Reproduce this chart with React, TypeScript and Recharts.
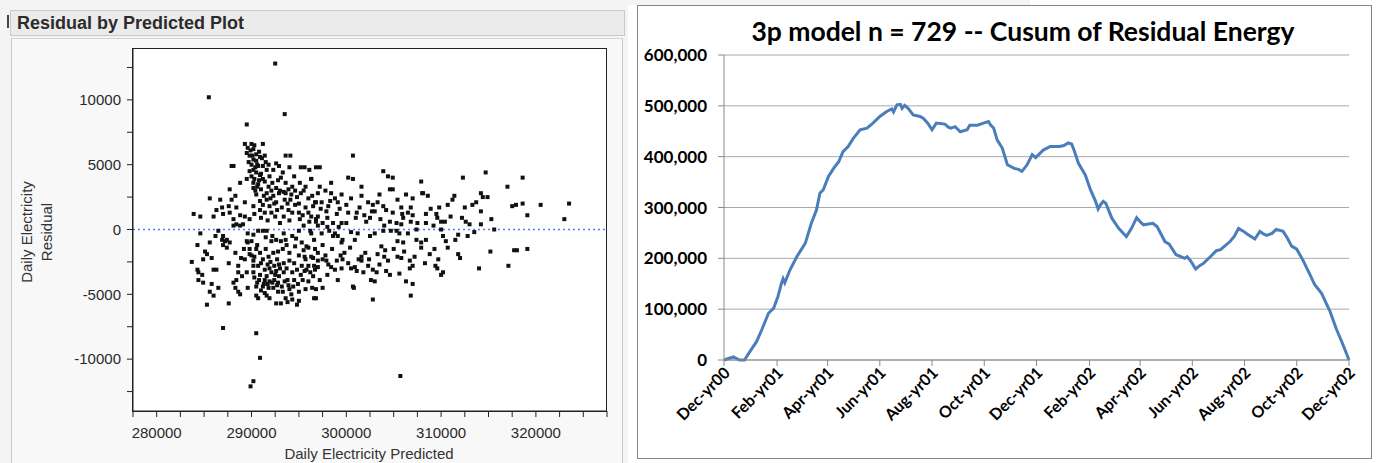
import React from 'react';
import {
  ScatterChart, Scatter, XAxis, YAxis, ReferenceLine,
  LineChart, Line, CartesianGrid,
} from 'recharts';

// ---------- Left: Residual by Predicted (values in thousands of kWh) ----------
const outlierPts: number[][] = [
  [285.5, 10.2], [292.5, 12.8], [293.5, 8.9], [289.5, 8.1], [287.0, -7.6],
  [290.5, -8.0], [290.9, -9.9], [290.2, -11.7], [289.9, -12.1], [305.7, -11.3],
];

const westPts: number[][] = [
  [283.9, 1.2], [284.6, 1.0], [283.7, -2.5], [284.3, -1.2], [284.6, -0.3], [284.3, -3.1], [284.4, -3.3],
  [284.8, -3.5], [284.4, -3.9], [284.9, -4.1], [285.1, -1.7], [285.3, -1.9], [284.9, -2.3], [285.3, -5.8],
  [285.6, 2.4], [286.0, 1.0], [285.6, -1.0], [285.8, -2.2], [286.0, -3.1], [285.8, -4.2], [285.6, -4.8],
  [286.0, -5.1], [286.5, -4.5], [286.3, -3.1], [286.2, -0.5], [286.5, -0.1], [286.3, 1.5], [286.7, 2.3],
  [286.9, 1.7], [287.0, 1.2], [287.0, -0.5], [286.9, -0.8], [287.2, -0.9], [287.4, -0.8], [287.0, -1.2],
  [287.4, -1.4], [287.7, -1.0], [287.6, -2.6], [287.6, -5.7], [287.7, 3.1], [287.9, 2.3], [287.6, 1.8],
  [287.7, 1.3], [288.1, 0.8], [288.4, 0.4], [288.1, 0.3], [288.8, 0.3], [289.1, 0.4], [287.9, 4.9],
  [288.1, 4.9], [288.8, 3.6], [289.5, 3.9], [289.3, 2.1], [288.4, 1.7], [288.1, -4.1], [288.3, -4.5],
  [288.6, -4.8], [288.8, -5.0], [288.4, -3.9], [288.6, -2.8], [288.3, -1.8], [289.5, -0.9], [289.6, -0.3],
  [289.3, -2.3], [289.5, -3.3], [289.6, -4.5], [289.0, -3.6], [289.2, -1.5], [288.9, -2.2], [288.6, -3.3],
  [288.3, 2.6], [288.8, 1.1], [289.3, 1.0],
];

const centralUpperPts: number[][] = [
  [289.3, 6.6], [290.0, 6.6], [291.2, 6.6], [289.6, 6.3], [290.2, 6.2], [289.5, 5.9], [290.5, 5.8],
  [289.8, 5.7], [290.9, 5.6], [291.4, 5.7], [290.2, 5.4], [290.5, 5.3], [290.0, 5.0], [290.7, 4.9],
  [291.2, 4.9], [290.2, 4.6], [289.8, 4.5], [290.5, 4.4], [290.9, 4.2], [290.0, 4.1], [290.3, 3.9],
  [291.2, 3.9], [290.2, 3.6], [290.7, 3.5], [291.4, 3.7], [291.9, 4.1], [291.6, 4.6], [291.8, 3.3],
  [292.3, 4.6], [290.2, 3.2], [291.0, 3.1], [290.5, 2.7], [291.6, 2.8], [292.1, 3.0], [292.6, 3.2],
  [292.9, 2.8], [292.3, 2.6], [291.6, 2.3], [291.2, 1.9], [291.9, 1.8], [292.6, 2.1], [290.9, 1.5],
  [291.4, 1.3], [292.1, 1.3], [293.2, 1.7], [290.2, 1.8], [290.3, 1.2], [289.8, 0.8], [292.9, 4.9],
  [292.6, 5.1], [293.6, 5.7], [294.1, 5.7], [293.1, 4.0], [293.6, 3.6], [294.3, 3.3], [293.6, 2.8],
  [294.1, 2.3], [294.6, 1.9], [293.9, 1.5], [293.4, 1.0], [294.3, 1.3], [295.1, 3.6], [295.2, 2.8],
  [295.7, 3.3], [295.2, 4.8], [295.6, 4.8], [296.1, 4.6], [296.8, 4.8], [296.3, 3.9], [296.4, 2.6],
  [296.8, 2.1], [295.7, 1.7], [296.3, 1.0], [296.8, 0.8], [295.1, 0.8], [290.4, 3.0], [290.8, 3.8],
  [291.0, 4.3], [290.6, 5.0], [290.1, 5.7], [289.9, 6.1], [290.3, 6.5], [291.5, 5.2], [291.8, 5.0],
  [292.2, 3.6], [292.8, 3.8], [293.0, 3.0], [293.5, 2.3], [293.8, 2.0], [294.2, 2.7], [294.8, 2.5],
  [295.0, 1.3], [294.0, 0.7], [293.0, 0.5], [292.5, 1.0], [291.7, 0.7], [291.0, 0.9], [292.0, 2.4],
  [293.3, 4.4], [294.5, 4.1], [295.5, 3.0], [296.0, 2.4], [297.0, 2.8], [297.8, 3.0], [298.8, 2.4],
  [299.0, 1.2], [298.0, 0.9], [297.0, 1.0], [289.7, 5.2], [290.4, 4.8], [290.8, 6.0], [291.1, 5.5],
  [290.6, 3.3], [291.3, 2.6], [290.9, 2.2], [292.4, 2.0], [292.7, 1.5], [293.4, 2.9], [293.9, 3.1],
  [294.6, 3.0], [294.0, 4.8], [295.0, 2.0], [295.4, 1.1], [296.5, 1.8],
];

const centralLowerPts: number[][] = [
  [290.2, -0.4], [290.7, -0.1], [291.2, -0.1], [291.6, -0.1], [292.1, -0.9], [292.6, -0.8], [293.1, -0.9],
  [293.4, -0.3], [293.6, -0.8], [290.5, -1.5], [290.9, -1.8], [290.3, -2.1], [291.2, -2.3], [291.8, -2.1],
  [292.3, -1.8], [292.8, -1.7], [293.3, -1.5], [294.0, -1.8], [290.2, -2.4], [290.7, -2.8], [291.4, -3.1],
  [291.9, -3.0], [292.4, -2.8], [292.9, -2.7], [293.4, -2.6], [294.0, -2.4], [294.5, -2.6], [290.2, -3.3],
  [290.9, -3.5], [291.6, -3.6], [292.1, -3.3], [292.6, -3.2], [292.9, -3.6], [293.4, -3.3], [291.4, -3.9],
  [291.9, -4.0], [292.4, -3.9], [292.8, -4.1], [291.2, -4.4], [291.8, -4.5], [292.3, -4.5], [293.2, -4.4],
  [290.5, -5.1], [291.4, -4.9], [291.6, -5.1], [292.6, -5.7], [293.1, -5.7], [293.6, -5.3], [294.3, -5.4],
  [294.8, -5.8], [295.0, -5.5], [293.8, -3.9], [294.3, -3.3], [294.8, -3.1], [295.3, -2.8], [295.2, -3.5],
  [295.7, -2.3], [296.3, -2.1], [296.6, -2.8], [296.4, -4.5], [296.6, -5.3], [295.3, -1.0], [295.8, -1.3],
  [296.6, -0.8], [294.6, -1.3], [294.3, -0.5], [295.0, -0.1], [295.5, 0.3], [296.1, 0.6], [290.0, -0.9],
  [289.6, -1.0], [289.8, -1.5], [290.5, -4.4], [290.7, -5.3], [290.6, -1.2], [291.0, -2.6], [291.5, -1.5],
  [292.0, -2.5], [292.5, -3.5], [293.0, -3.0], [293.5, -4.0], [294.0, -4.6], [294.5, -3.9], [295.0, -2.0],
  [295.5, -1.6], [296.0, -2.8], [296.5, -3.6], [297.0, -1.8], [297.8, -2.0], [298.5, -1.5], [299.0, -2.4],
  [299.5, -1.0], [298.0, -3.5], [297.5, -4.5], [296.0, -4.0], [295.0, -4.8], [294.2, -5.0], [293.8, -5.6],
  [292.8, -4.8], [291.9, -5.3], [291.3, -4.2], [290.8, -3.9], [290.2, -2.8], [289.8, -1.9], [293.7, -1.2],
  [294.7, -0.7], [292.2, -0.5], [291.5, -0.6], [290.3, -3.7], [290.6, -4.1], [291.0, -4.7], [291.7, -4.2],
  [292.2, -4.1], [292.7, -4.3], [293.3, -4.8], [293.9, -4.3], [294.4, -4.4], [295.6, -3.2], [296.2, -3.3],
  [291.7, -2.7], [292.7, -2.3], [293.7, -3.0], [294.9, -4.2], [295.7, -4.6], [290.0, -2.0],
];

const eastPts: number[][] = [
  [297.2, 4.8], [296.3, 3.9], [297.2, 3.3], [298.4, 3.6], [299.5, 2.7], [300.2, 4.0], [300.7, 3.9],
  [301.6, 3.3], [296.7, 2.1], [297.4, 2.1], [297.9, 1.4], [296.0, 1.3], [296.8, 0.6], [297.5, 0.5],
  [298.6, 0.5], [299.5, 0.5], [298.1, 1.8], [298.4, 2.8], [299.1, 2.1], [300.0, 1.9], [300.2, 1.3],
  [301.1, 1.3], [301.4, 1.7], [301.6, 2.6], [302.3, 2.1], [302.8, 1.9], [303.3, 2.1], [303.9, 1.8],
  [304.2, 1.5], [303.0, 1.4], [302.5, 0.9], [302.1, 0.6], [296.3, -0.3], [297.4, -0.3], [298.2, -0.1],
  [298.6, -0.5], [299.1, -0.5], [299.6, -0.8], [298.8, -0.3], [296.0, -1.4], [296.7, -1.5], [297.5, -1.2],
  [295.6, -2.1], [296.5, -2.2], [297.0, -2.4], [297.5, -2.3], [298.1, -2.7], [298.8, -3.1], [299.5, -3.0],
  [295.8, -3.1], [296.7, -3.1], [297.2, -3.9], [295.4, -3.9], [296.8, -4.6], [296.8, -5.3], [299.1, -3.9],
  [299.6, -2.3], [299.8, -1.8], [300.4, -1.4], [300.5, -3.0], [300.7, -4.4], [300.8, -4.5], [301.1, -3.2],
  [301.3, -2.3], [301.6, -2.1], [302.0, -1.8], [301.6, -2.4], [302.3, -2.8], [302.8, -3.1], [302.6, -3.9],
  [303.0, -4.0], [302.8, -5.4], [303.2, -3.3], [303.3, -1.9], [303.7, -1.3], [304.0, -2.1], [304.4, -2.4],
  [304.2, -3.2], [304.6, -3.5], [303.9, -0.1], [304.7, -0.1], [304.0, 0.3], [303.0, -0.3], [302.5, -0.5],
  [301.2, -0.3], [300.5, -0.2], [300.9, -0.8], [297.3, 1.6], [298.3, 2.2], [299.3, 1.6], [300.5, 2.4],
  [301.0, 0.9], [301.9, 1.1], [302.7, 1.4], [303.6, 0.8], [303.5, 2.7], [300.0, 0.5], [299.2, 0.2],
  [298.0, 0.2], [297.0, 0.3], [296.2, -0.1], [297.0, -2.9], [297.9, -2.4], [298.4, -2.9], [299.4, -2.0],
  [300.2, -2.6], [300.9, -2.9], [301.8, -3.3], [302.4, -2.3], [303.5, -2.7], [304.1, -1.6],
];

const farEastPts: number[][] = [
  [300.7, 5.7], [303.9, 4.5], [304.4, 4.1], [304.9, 4.0], [307.9, 3.7], [304.6, 3.1], [304.9, 3.1],
  [306.3, 2.7], [307.0, 2.4], [308.0, 2.8], [308.6, 2.6], [305.4, 2.3], [305.8, 1.7], [306.5, 1.3],
  [306.8, 1.7], [305.9, 1.2], [304.9, 1.3], [304.6, 0.6], [305.3, 0.5], [305.8, 0.4], [306.8, 0.6],
  [307.5, 0.5], [308.4, 1.2], [308.4, 0.5], [309.5, 1.2], [309.6, 0.9], [310.0, 0.6], [310.4, 0.6],
  [309.8, 1.7], [310.7, 1.9], [311.2, 2.3], [311.4, 2.6], [305.3, -0.1], [305.6, -0.3], [306.5, -0.3],
  [307.4, 0.0], [305.4, -0.9], [306.0, -1.0], [307.4, -0.8], [307.9, -1.0], [308.4, -0.8], [310.0, 0.0],
  [310.2, -0.5], [310.5, -0.9], [310.7, -1.4], [309.3, -1.5], [307.9, -1.4], [305.4, -2.1], [305.8, -2.2],
  [306.7, -2.4], [307.0, -2.8], [308.3, -2.6], [309.4, -2.8], [309.6, -3.0], [306.7, -3.0], [305.6, -3.4],
  [306.3, -4.0], [307.0, -4.2], [306.8, -5.1], [310.0, -3.5], [310.2, -3.3], [311.8, -0.4], [312.0, -2.2],
  [311.8, -1.9], [312.3, 4.0], [312.5, 1.7], [312.6, 0.6], [313.0, 0.4], [312.8, -0.5], [313.3, 1.9],
  [313.7, 2.1], [314.2, 2.8], [314.4, 2.5], [314.9, 2.5], [314.2, 1.4], [314.2, 0.4], [314.0, -3.0],
  [314.7, 4.4], [315.3, 0.8], [315.6, 0.0], [315.2, -1.7], [317.0, 3.3], [317.5, 1.8], [317.9, 1.9],
  [318.6, 2.0], [318.6, 4.0], [319.1, 1.1], [317.7, -1.6], [318.0, -1.6], [319.1, -1.5], [317.1, -2.8],
  [320.5, 1.9], [323.0, 0.8], [323.5, 2.0], [308.1, 2.8], [305.0, -1.5], [306.1, -1.7], [307.2, -2.1],
  [308.8, -1.9], [309.7, -2.3], [306.0, 0.9], [307.0, 1.1], [308.9, 1.6], [309.2, 0.3], [311.0, 1.0],
  [311.5, -0.8], [312.2, 0.9], [313.5, -0.2],
];

const residualTicks = [-12500, -10000, -7500, -5000, -2500, 0, 2500, 5000, 7500, 10000, 12500];
const predictedTicks = [
  277500, 280000, 282500, 285000, 287500, 290000, 292500, 295000, 297500,
  300000, 302500, 305000, 307500, 310000, 312500, 315000, 317500, 320000, 322500, 325000, 327500,
];

const scatterData = [
  ...outlierPts, ...westPts, ...centralUpperPts, ...centralLowerPts, ...eastPts, ...farEastPts,
].map(([p, r]) => ({ x: p * 1000, y: r * 1000 }));

// ---------- Right: Cusum of residual energy (day index from Dec-yr00, value in thousands) ----------
const cusumDays = [
  0, 11, 18, 24, 30, 38, 44, 52, 58, 63, 67, 69, 71, 77, 85, 95, 102, 108, 112, 116, 122, 128, 134, 139,
  145, 151, 159, 167, 174, 182, 190, 196, 198, 202, 206, 208, 211, 215, 221, 229, 233, 238, 243, 248,
  258, 262, 265, 270, 276, 284, 287, 296, 303, 309, 311, 315, 319, 325, 331, 339, 344, 348, 354, 360,
  364, 373, 381, 392, 397, 402, 406, 409, 414, 422, 428, 434, 437, 440, 443, 446, 453, 461, 466, 470,
  476, 482, 486, 490, 501, 506, 515, 520, 528, 533, 538, 541, 545, 551, 556, 560, 568, 575, 580, 591,
  596, 601, 606, 611, 620, 626, 630, 634, 640, 645, 653, 658, 663, 669, 676, 683, 690, 698, 703, 708,
  715, 723, 730,
];
const cusumValues = [
  0, 6, 0, 0, 16, 36, 59, 92, 102, 125, 150, 160, 152, 177, 203, 230, 269, 295, 328, 335, 361, 377, 390, 410,
  420, 436, 453, 456, 466, 479, 489, 494, 488, 502, 503, 495, 501, 495, 482, 479, 475, 466, 453, 466,
  464, 458, 456, 459, 449, 453, 462, 462, 466, 469, 463, 456, 433, 417, 384, 377, 375, 371, 384, 404,
  398, 413, 420, 420, 422, 427, 425, 412, 387, 364, 335, 312, 297, 306, 312, 308, 279, 259, 250, 243,
  259, 280, 272, 266, 269, 262, 233, 228, 207, 204, 200, 203, 195, 179, 186, 190, 203, 215, 217, 233,
  243, 259, 254, 248, 238, 253, 248, 245, 249, 257, 253, 240, 224, 218, 197, 173, 148, 131, 113, 95,
  62, 30, 0,
];
const monthTickDays = [0, 62, 121, 182, 243, 304, 365, 427, 486, 547, 608, 669, 730];
const monthTickLabels = [
  'Dec-yr00', 'Feb-yr01', 'Apr-yr01', 'Jun-yr01', 'Aug-yr01', 'Oct-yr01', 'Dec-yr01',
  'Feb-yr02', 'Apr-yr02', 'Jun-yr02', 'Aug-yr02', 'Oct-yr02', 'Dec-yr02',
];
const energyTicks = [0, 100000, 200000, 300000, 400000, 500000, 600000];

const cusumData = cusumDays.map((d, i) => ({ day: d, value: cusumValues[i] * 1000 }));

const SquareDot = (props: any) => {
  const { cx, cy } = props;
  if (cx == null || cy == null) return <g />;
  return <rect x={cx - 2} y={cy - 2} width={4} height={4} fill="#111" />;
};

const DateTick = (props: any) => {
  const { x, y, payload } = props;
  const idx = monthTickDays.indexOf(payload.value);
  const label = idx >= 0 ? monthTickLabels[idx] : '';
  return (
    <text
      x={x + 3}
      y={y + 2}
      transform={`rotate(-45 ${x + 3} ${y + 2})`}
      textAnchor="end"
      dy="0.35em"
      fontFamily="Lato"
      fontWeight={700}
      fontSize={16}
      fill="#000"
    >
      {label}
    </text>
  );
};

const leftFont = "'Liberation Sans', Arial, sans-serif";

export default function App() {
  return (
    <div style={{ position: 'absolute', left: 0, top: 0, width: 1376, height: 463, background: '#fff', overflow: 'hidden' }}>
      {/* left window backgrounds */}
      <div style={{ position: 'absolute', left: 0, top: 0, width: 628, height: 463, background: '#f4f4f4' }} />
      <div style={{ position: 'absolute', left: 628, top: 0, width: 402, height: 5, background: '#f4f4f4' }} />
      <div style={{ position: 'absolute', left: 7, top: 15, width: 2, height: 13, background: '#444' }} />
      <div style={{
        position: 'absolute', left: 10, top: 10, width: 615, height: 26, boxSizing: 'border-box',
        background: '#ebebeb', border: '1px solid #c9c9c9', fontFamily: leftFont, fontWeight: 700,
        fontSize: 18, color: '#2b2b2b', paddingLeft: 6, lineHeight: '24px',
      }}>
        Residual by Predicted Plot
      </div>
      <div style={{
        position: 'absolute', left: 11, top: 38, width: 612, height: 425, boxSizing: 'border-box',
        background: '#f8f8f8', borderLeft: '1px solid #c8c8c8', borderRight: '1px solid #c8c8c8', borderTop: '1px solid #d4d4d4',
      }} />
      {/* plot frame */}
      <div style={{
        position: 'absolute', left: 132, top: 48, width: 475, height: 364, boxSizing: 'border-box',
        background: '#fff', border: '1px solid #222',
      }} />
      <div style={{ position: 'absolute', left: 0, top: 0 }}>
        <ScatterChart width={630} height={463} margin={{ top: 48, right: 23, bottom: 0, left: 0 }}>
          <XAxis
            dataKey="x" type="number" domain={[277500, 327500]} ticks={predictedTicks}
            allowDataOverflow height={52} interval={0}
            tickFormatter={(v: number) => (v % 10000 === 0 ? String(v) : '')}
            tick={{ fontFamily: leftFont, fontSize: 15, fill: '#2a2a2a' }}
            tickSize={6} tickMargin={10}
            axisLine={{ stroke: '#222' }} tickLine={{ stroke: '#222' }}
          />
          <YAxis
            dataKey="y" type="number" domain={[-14000, 14000]} ticks={residualTicks}
            allowDataOverflow width={133} interval={0}
            tickFormatter={(v: number) => (v % 5000 === 0 ? String(v) : '')}
            tick={{ fontFamily: leftFont, fontSize: 15, fill: '#2a2a2a' }}
            tickSize={6} tickMargin={6}
            axisLine={{ stroke: '#222' }} tickLine={{ stroke: '#222' }}
          />
          <ReferenceLine y={0} stroke="#4f7ef2" strokeDasharray="2 3" strokeWidth={1.3} />
          <Scatter data={scatterData} shape={SquareDot} isAnimationActive={false} />
        </ScatterChart>
      </div>

      {/* right chart */}
      <div style={{
        position: 'absolute', left: 637, top: 5, width: 735, height: 454, boxSizing: 'border-box',
        border: '1px solid #858585', background: '#fff',
      }} />
      <div style={{ position: 'absolute', left: 638, top: 6 }}>
        <LineChart width={734} height={452} data={cusumData} margin={{ top: 49, right: 23, bottom: 0, left: 0 }}>
          <CartesianGrid vertical={false} stroke="#a9a9a9" horizontalValues={energyTicks} />
          <XAxis
            dataKey="day" type="number" domain={[0, 730]} ticks={monthTickDays} interval={0}
            height={98} tick={<DateTick />} tickSize={6} tickMargin={2}
            axisLine={{ stroke: '#8a8a8a' }} tickLine={{ stroke: '#8a8a8a' }}
          />
          <YAxis
            type="number" domain={[0, 600000]} ticks={energyTicks} interval={0} width={86}
            tickFormatter={(v: number) => v.toLocaleString('en-US')}
            tick={{ fontFamily: 'Lato', fontWeight: 700, fontSize: 17, fill: '#000' }}
            tickSize={6} tickMargin={11}
            axisLine={{ stroke: '#8a8a8a' }} tickLine={{ stroke: '#8a8a8a' }}
          />
          <Line
            dataKey="value" type="linear" stroke="#4a7ebb" strokeWidth={3} dot={false}
            isAnimationActive={false}
          />
        </LineChart>
      </div>

      {/* text overlay */}
      <svg width={1376} height={463} style={{ position: 'absolute', left: 0, top: 0, pointerEvents: 'none' }}>
        <text x={26} y={232} transform="rotate(-90 26 232)" textAnchor="middle" dominantBaseline="central"
          fontFamily={leftFont} fontSize={15} fill="#333">Daily Electricity</text>
        <text x={46} y={232} transform="rotate(-90 46 232)" textAnchor="middle" dominantBaseline="central"
          fontFamily={leftFont} fontSize={15} fill="#333">Residual</text>
        <text x={369} y={453} textAnchor="middle" dominantBaseline="central"
          fontFamily={leftFont} fontSize={15} fill="#333">Daily Electricity Predicted</text>
        <text x={1023} y={41} textAnchor="middle"
          fontFamily="Lato" fontWeight={700} fontSize={26.5} fill="#000">3p model n = 729 -- Cusum of Residual Energy</text>
      </svg>
    </div>
  );
}
